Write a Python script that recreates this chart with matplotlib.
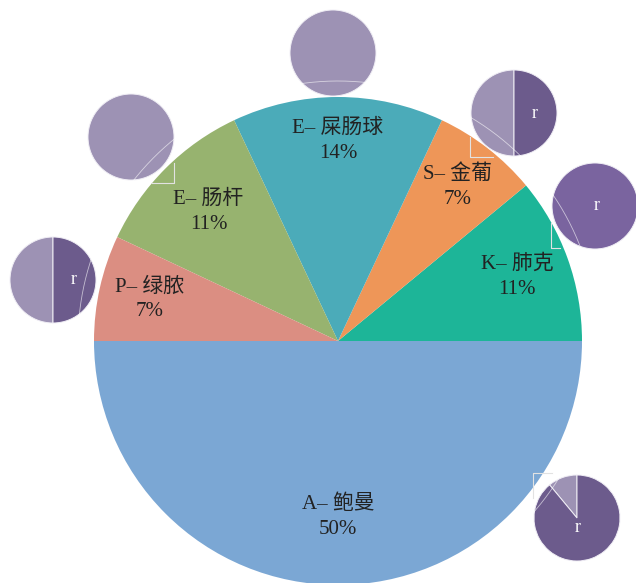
import matplotlib
matplotlib.use('Agg')
import matplotlib.pyplot as plt
import numpy as np

# main pie, counter-clockwise from 3 o'clock
names  = ['K– 肺克', 'S– 金葡', 'E– 屎肠球', 'E– 肠杆', 'P– 绿脓', 'A– 鲍曼']
values = [11, 7, 14, 11, 7, 50]
colors = ['#1db598', '#ee9658', '#4babb9', '#97b36f', '#db8e82', '#7ba7d4']

# small satellite pies: share of light / dark part
mini_shares = [[50, 50], [100, 0], [100, 0], [50, 50], [0, 100], [11, 89]]
mini_marks  = ['r', '', '', 'r', 'r', 'r']

light = '#9d92b4'
dark = '#6c5b8c'

plt.rcParams['font.family'] = ['Liberation Serif', 'Noto Sans CJK SC', 'DejaVu Sans']

W, H = 636, 583
fig = plt.figure(figsize=(W / 100, H / 100), dpi=100)
ax = fig.add_axes([0, 0, 1, 1])

cx, cy, R = 338, 242, 244
wedges, _ = ax.pie(values, colors=colors, startangle=0, counterclock=True,
                   center=(cx, cy), radius=R,
                   wedgeprops=dict(linewidth=0))

#labels inside each wedge
label_r = [0.78, 0.80, 0.82, 0.75, 0.79, 0.72]
for w, name, v, lr in zip(wedges, names, values, label_r):
    ang = np.deg2rad((w.theta1 + w.theta2) / 2.)
    x = cx + lr * R * np.cos(ang)
    y = cy + lr * R * np.sin(ang)
    ax.text(x, y, '%s\n%d%%' % (name, v), ha='center', va='center',
            fontsize=15, color='#222222', linespacing=1.4)

#faint guide arc around the pie
t = np.linspace(0, 2 * np.pi, 400)
ax.plot(cx + 260 * np.cos(t), cy + 260 * np.sin(t), color='white', lw=0.6, alpha=0.6, zorder=5)

#satellite pies
mini_pos = [(53, 303), (131, 446), (333, 530), (514, 470), (595, 377), (577, 65)]
mini_dark = [dark, dark, dark, dark, '#7a649f', dark]
mr = 43
for (mx, my), share, mark, dk in zip(mini_pos, mini_shares, mini_marks, mini_dark):
    cols = [c for s, c in zip(share, [light, dk]) if s > 0]
    vals = [s for s in share if s > 0]
    ws, _ = ax.pie(vals, colors=cols, startangle=90, counterclock=True,
                   center=(mx, my), radius=mr,
                   wedgeprops=dict(linewidth=0.7, edgecolor='#f0eef5'))
    for wd in ws:
        wd.set_zorder(4)
    if mark:
        if share[0] == 50:
            tx, ty = mx + 21, my
        elif share[0] == 0:
            tx, ty = mx + 2, my
        else:
            tx, ty = mx + 1, my - 10
        ax.text(tx, ty, mark, ha='center', va='center', fontsize=13,
                color='white', zorder=6)

#little leader corners
corners = [[(174, 420), (174, 400), (152, 400)],
           [(470, 446), (470, 426), (493, 426)],
           [(551, 360), (551, 335), (560, 335)],
           [(552, 110), (533, 110), (533, 85)]]
for c in corners:
    xs, ys = zip(*c)
    ax.plot(xs, ys, color='#e2e2e2', lw=0.8, zorder=3)

ax.set_xlim(0, W)
ax.set_ylim(0, H)
ax.set_aspect('auto')
ax.axis('off')

fig.savefig('out.png', dpi=100, facecolor='white')
